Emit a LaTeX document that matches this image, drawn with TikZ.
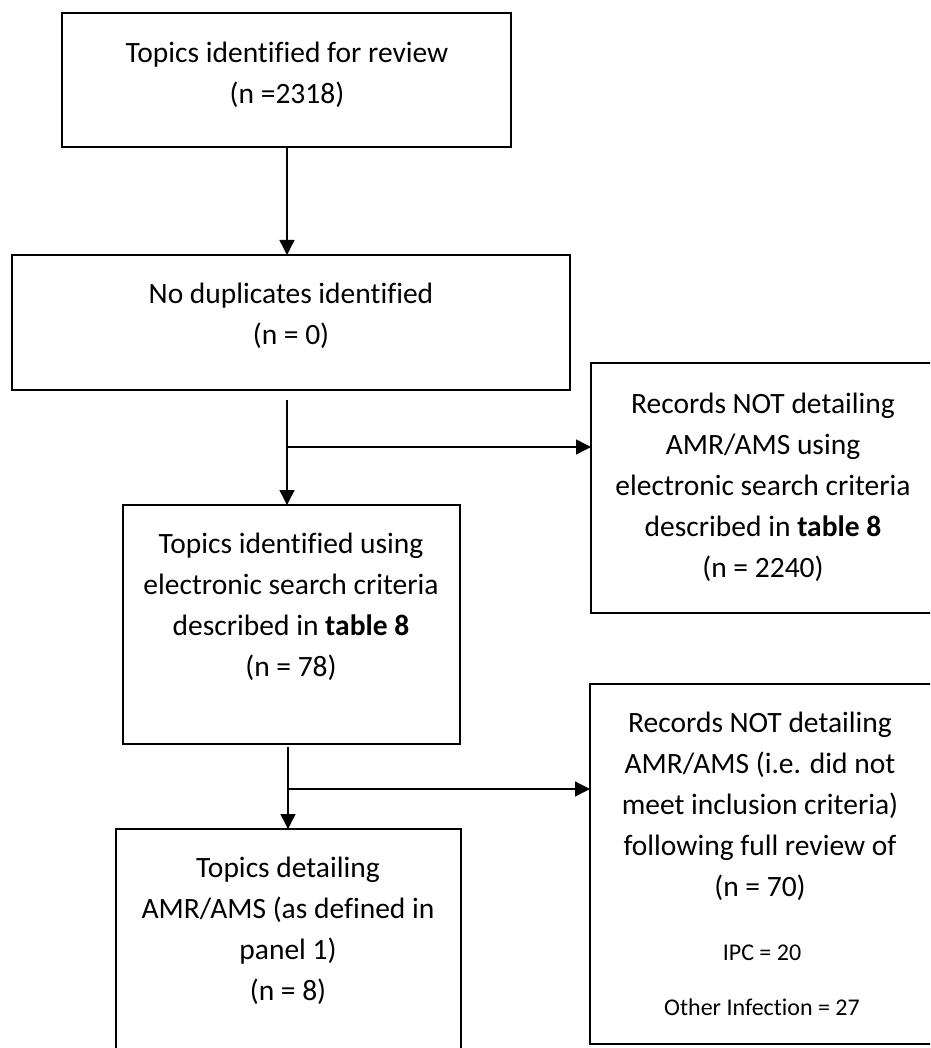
\documentclass[tikz,border=0pt]{standalone}
\usepackage{fontspec}
\setmainfont{Carlito}[Ligatures=NoCommon]
\usetikzlibrary{arrows.meta}
\begin{document}
\begin{tikzpicture}[x=1pt,y=-1pt,
  box/.style={draw, line width=1.8pt, inner sep=0pt, outer sep=0pt, rectangle},
  txt/.style={anchor=north, align=center, inner sep=0pt, font=\fontsize{29.5}{41}\selectfont},
  small/.style={anchor=base, inner sep=0pt, font=\fontsize{24}{28}\selectfont},
  flow/.style={line width=1.4pt, -{Triangle[width=15pt,length=15pt]}},
]
\useasboundingbox (0,0) rectangle (930,1048);
\clip (0,0) rectangle (930,1048);

% boxes
\node[box, minimum width=449pt, minimum height=134pt] (b1) at (286.5,80) {};
\node[box, minimum width=558pt, minimum height=135pt] (b2) at (291,322.5) {};
\node[box, minimum width=337pt, minimum height=239pt] (b3) at (291.5,624.5) {};
\node[box, minimum width=345pt, minimum height=242pt] (b4) at (288.5,950) {};
\node[box, minimum width=344pt, minimum height=250pt] (r1) at (763,488) {};
\node[box, minimum width=342pt, minimum height=360pt] (r2) at (761,864) {};

% texts
\node[txt] (t1) at (287,33.3) {\strut Topics identified for review\\(n =2318)};
\node[txt] (t2) at (291,274.3) {\strut No duplicates identified\\(n = 0)};
\node[txt] (t3) at (291,524.3) {\strut Topics identified using\\electronic search criteria\\described in \textbf{table 8}\\(n = 78)};
\node[txt] (t4) at (288,848.3) {\strut Topics detailing\\AMR/AMS (as defined in\\panel 1)\\(n = 8)};
\node[txt] (tr1) at (763,384.3) {\strut Records NOT detailing\\AMR/AMS using\\electronic search criteria\\described in \textbf{table 8}\\(n = 2240)};
\node[txt] (tr2) at (760,703.3) {\strut Records NOT detailing\\AMR/AMS (i.e. did not\\meet inclusion criteria)\\following full review of\\(n = 70)};
\node[small] (ipc) at (762,960) {IPC = 20};
\node[small] (oth) at (762,1015) {Other Infection = 27};

% connectors
\coordinate (s2) at (287,400);
\coordinate (j2) at (287,447);
\coordinate (s3) at (288,747);
\coordinate (j3) at (288,789);

\draw[flow] (b1.south -| 287,0) -- (b2.north -| 287,0);
\draw[flow] (s2) -- (s2 |- b3.north);
\draw[flow] (j2) -- (j2 -| r1.west);
\draw[flow] (s3) -- (s3 |- b4.north);
\draw[flow] (j3) -- (j3 -| r2.west);
\end{tikzpicture}
\end{document}
